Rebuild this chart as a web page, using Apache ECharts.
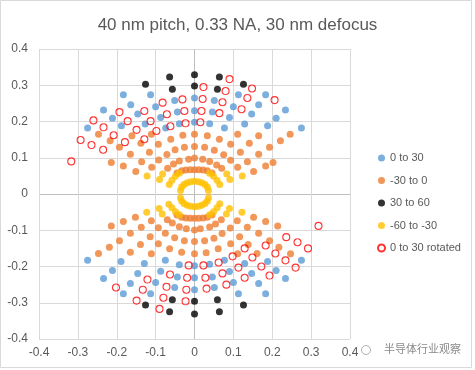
<!DOCTYPE html>
<html>
<head>
<meta charset="utf-8">
<script src="https://cdn.jsdelivr.net/npm/echarts@6/dist/echarts.min.js"></script>
<style>html,body{margin:0;padding:0;background:#fff;}#c{width:475px;height:370px;}</style>
</head>
<body>
<div id="c"></div>
<script>
const seriesNames = ['0 to 30', '-30 to 0', '30 to 60', '-60 to -30', '0 to 30 rotated'];
const xTicks = [-0.4, -0.3, -0.2, -0.1, 0, 0.1, 0.2, 0.3, 0.4];
const yTicks = [-0.4, -0.3, -0.2, -0.1, 0, 0.1, 0.2, 0.3, 0.4];

const blueTop = [[-0.275,0.182],[-0.234,0.232],[-0.211,0.209],[-0.188,0.188],[-0.183,0.274],[-0.164,0.246],[-0.146,0.221],[-0.127,0.193],[-0.113,0.274],[-0.100,0.241],[-0.087,0.211],[-0.074,0.182],[-0.051,0.258],[-0.044,0.226],[-0.039,0.194],[0,0.265],[0,0.230],[0,0.198],[0.039,0.194],[0.046,0.226],[0.051,0.258],[0.077,0.182],[0.090,0.211],[0.100,0.241],[0.113,0.274],[0.129,0.193],[0.147,0.221],[0.165,0.246],[0.183,0.274],[0.188,0.188],[0.210,0.209],[0.234,0.232],[0.275,0.182]];
const blueBottom = [[-0.275,-0.183],[-0.234,-0.233],[-0.211,-0.211],[-0.189,-0.186],[-0.183,-0.275],[-0.165,-0.247],[-0.146,-0.219],[-0.129,-0.192],[-0.113,-0.275],[-0.100,-0.244],[-0.087,-0.213],[-0.075,-0.183],[-0.051,-0.258],[-0.044,-0.229],[-0.039,-0.195],[0,-0.264],[0,-0.231],[0,-0.198],[0.039,-0.194],[0.046,-0.229],[0.051,-0.258],[0.077,-0.183],[0.090,-0.214],[0.100,-0.244],[0.113,-0.275],[0.129,-0.192],[0.147,-0.219],[0.165,-0.247],[0.183,-0.275],[0.188,-0.186],[0.210,-0.211],[0.234,-0.233],[0.275,-0.183]];

const orangeTop = [[-0.247,0.165],[-0.217,0.147],[-0.193,0.129],[-0.214,0.087],[-0.183,0.077],[-0.165,0.110],[-0.161,0.161],[-0.138,0.140],[-0.151,0.062],[-0.136,0.089],[-0.116,0.115],[-0.111,0.165],[-0.093,0.137],[-0.110,0.074],[-0.092,0.094],[-0.061,0.151],[-0.071,0.109],[-0.069,0.071],[-0.050,0.122],[-0.054,0.083],[-0.039,0.091],[-0.030,0.162],[-0.026,0.129],[-0.015,0.096],
  [0,0.165],[0,0.131],[0,0.099],
  [0.033,0.161],[0.064,0.151],[0.111,0.165],[0.165,0.161],[0.221,0.147],[0.246,0.165],[0.026,0.129],[0.051,0.121],[0.093,0.137],[0.141,0.140],[0.193,0.129],[0.021,0.096],[0.039,0.090],[0.075,0.108],[0.093,0.093],[0.118,0.115],[0.165,0.110],[0.202,0.087],[0.057,0.080],[0.070,0.071],[0.111,0.074],[0.136,0.089],[0.152,0.062],[0.183,0.077],
  [-0.045,0.058],[-0.033,0.064],[-0.022,0.066],[-0.011,0.067],[0,0.067],[0.011,0.067],[0.022,0.066],[0.033,0.064],[0.045,0.058]];
const orangeBottom = [[0.247,-0.165],[0.217,-0.147],[0.193,-0.129],[0.214,-0.088],[0.183,-0.076],[0.165,-0.108],[0.161,-0.164],[0.138,-0.139],[0.152,-0.064],[0.136,-0.092],[0.116,-0.118],[0.111,-0.165],[0.093,-0.137],[0.110,-0.074],[0.092,-0.094],[0.061,-0.151],[0.071,-0.109],[0.069,-0.071],[0.050,-0.122],[0.054,-0.083],[0.039,-0.091],[0.030,-0.162],[0.026,-0.129],[0.015,-0.096],
  [0,-0.165],[0,-0.131],[0,-0.099],
  [-0.033,-0.161],[-0.064,-0.151],[-0.111,-0.165],[-0.165,-0.161],[-0.219,-0.147],[-0.247,-0.164],[-0.026,-0.129],[-0.051,-0.121],[-0.093,-0.137],[-0.139,-0.139],[-0.193,-0.129],[-0.021,-0.096],[-0.039,-0.090],[-0.075,-0.108],[-0.093,-0.093],[-0.114,-0.118],[-0.165,-0.108],[-0.214,-0.088],[-0.057,-0.080],[-0.070,-0.071],[-0.111,-0.074],[-0.137,-0.092],[-0.152,-0.064],[-0.183,-0.076],
  [-0.045,-0.058],[-0.033,-0.064],[-0.022,-0.066],[-0.011,-0.067],[0,-0.067],[0.011,-0.067],[0.022,-0.066],[0.033,-0.064],[0.045,-0.058]];

const blackTop = [[-0.126,0.303],[-0.064,0.323],[-0.057,0.289],[0,0.329],[0,0.298],[0.059,0.289],[0.064,0.323],[0.126,0.303]];
const blackBottom = [[-0.126,-0.306],[-0.064,-0.325],[-0.057,-0.292],[0,-0.331],[0,-0.296],[0.059,-0.292],[0.064,-0.325],[0.126,-0.306]];

const yellowTop = [[-0.122,0.050],[-0.090,0.040],[-0.082,0.055],[0.083,0.055],[0.091,0.040],[0.123,0.050],
  [-0.065,0.026],[-0.058,0.038],[-0.049,0.049],[-0.039,0.057],[0.039,0.057],[0.049,0.049],[0.058,0.038],[0.065,0.026],
  [-0.036,0.010],[-0.033,0.019],[-0.027,0.026],[-0.019,0.031],[-0.010,0.034],[0,0.035],[0.010,0.034],[0.019,0.031],[0.027,0.026],[0.033,0.019],[0.036,0.010]];
const yellowBottom = [[0.122,-0.050],[0.090,-0.040],[0.082,-0.055],[-0.083,-0.055],[-0.091,-0.040],[-0.123,-0.050],
  [0.065,-0.027],[0.058,-0.038],[0.049,-0.049],[0.039,-0.057],[-0.039,-0.057],[-0.049,-0.049],[-0.058,-0.038],[-0.066,-0.028],
  [0.036,-0.010],[0.033,-0.019],[0.027,-0.026],[0.019,-0.031],[0.010,-0.034],[0,-0.035],[-0.010,-0.034],[-0.019,-0.031],[-0.027,-0.026],[-0.033,-0.019],[-0.036,-0.010]];

const redTop = [[-0.317,0.090],[-0.293,0.149],[-0.265,0.135],[-0.260,0.203],[-0.234,0.184],[-0.235,0.122],[-0.208,0.162],[-0.193,0.226],[-0.172,0.201],[-0.179,0.143],[-0.149,0.177],[-0.129,0.229],[-0.113,0.201],[-0.129,0.151],[-0.098,0.174],[-0.082,0.252],[-0.071,0.220],[-0.062,0.187],[-0.031,0.261],[-0.026,0.229],[-0.023,0.195],[0.015,0.198],[0.018,0.229],[0.021,0.262],[0.023,0.295],[0.064,0.223],[0.072,0.253],[0.080,0.284],[0.090,0.317],[0.121,0.234],[0.136,0.265],[0.148,0.291],[0.206,0.259]];
const redBottom = [[-0.015,-0.197],[-0.019,-0.231],[-0.021,-0.264],[-0.023,-0.296],[-0.063,-0.222],[-0.072,-0.256],[-0.080,-0.286],[-0.090,-0.317],[-0.121,-0.236],[-0.133,-0.264],[-0.149,-0.294],[-0.202,-0.258],[0.023,-0.197],[0.028,-0.231],[0.031,-0.261],[0.062,-0.189],[0.072,-0.219],[0.082,-0.250],[0.098,-0.172],[0.113,-0.203],[0.129,-0.231],[0.129,-0.150],[0.149,-0.175],[0.172,-0.200],[0.193,-0.225],[0.183,-0.142],[0.208,-0.164],[0.234,-0.183],[0.260,-0.203],[0.236,-0.119],[0.265,-0.133],[0.292,-0.150],[0.319,-0.088]];

const FONT = '"Liberation Sans", Arial, sans-serif';

const chart = echarts.init(document.getElementById('c'), null, {renderer: 'canvas'});
function sc(name, data, style) {
  return {name, type: 'scatter', data, symbol: 'circle', symbolSize: 7, itemStyle: style,
          emphasis: {disabled: true}, animation: false};
}
chart.setOption({
  animation: false,
  backgroundColor: '#ffffff',
  title: {
    text: '40 nm pitch, 0.33 NA, 30 nm defocus',
    left: 'center', top: 12,
    textStyle: {fontFamily: FONT, fontSize: 17, fontWeight: 'normal', color: '#595959'}
  },
  grid: {left: 39, top: 49, width: 311, height: 290, containLabel: false},
  xAxis: {
    type: 'value', min: -0.4, max: 0.4, interval: 0.1,
    axisLine: {show: false}, axisTick: {show: false},
    axisLabel: {fontFamily: FONT, fontSize: 12, color: '#595959', margin: 8,
      formatter: v => String(Math.round(v * 10) / 10)},
    splitLine: {show: true, lineStyle: {color: xTicks.map(v => v === 0 ? '#bfbfbf' : '#d9d9d9'), width: 1}}
  },
  yAxis: {
    type: 'value', min: -0.4, max: 0.4, interval: 0.1,
    axisLine: {show: false}, axisTick: {show: false},
    axisLabel: {fontFamily: FONT, fontSize: 12, color: '#595959', margin: 11,
      formatter: v => String(Math.round(v * 10) / 10)},
    splitLine: {show: true, lineStyle: {color: yTicks.map(v => v === 0 ? '#bfbfbf' : '#d9d9d9'), width: 1}}
  },
  legend: {
    orient: 'vertical', left: 372, top: 146,
    itemWidth: 7, itemHeight: 7, itemGap: 8.5,
    textStyle: {fontFamily: FONT, fontSize: 11, color: '#595959', lineHeight: 14},
    data: seriesNames.map(n => ({name: n, icon: 'circle'}))
  },
  series: [
    sc(seriesNames[0], blueTop.concat(blueBottom), {color: '#5B9BD5'}),
    sc(seriesNames[1], orangeTop.concat(orangeBottom), {color: '#ED7D31'}),
    sc(seriesNames[2], blackTop.concat(blackBottom), {color: '#000000'}),
    sc(seriesNames[3], yellowTop.concat(yellowBottom), {color: '#FFC000'}),
    sc(seriesNames[4], redTop.concat(redBottom), {color: 'rgba(255,255,255,0)', borderColor: '#FF0000', borderWidth: 1.1})
  ],
  graphic: [
    {type: 'rect', silent: true, shape: {x: 0.5, y: 0.5, width: 471, height: 367},
     style: {fill: 'none', stroke: '#d9d9d9', lineWidth: 1}},
    {type: 'circle', silent: true, shape: {cx: 366, cy: 350, r: 4.5},
     style: {fill: 'none', stroke: '#b0b0b0', lineWidth: 1}},
    {type: 'text', silent: true, left: 384, top: 343,
     style: {text: '半导体行业观察', font: '11px "Noto Sans CJK SC"', fill: '#8a8a8a'}}
  ]
});
</script>
</body>
</html>
